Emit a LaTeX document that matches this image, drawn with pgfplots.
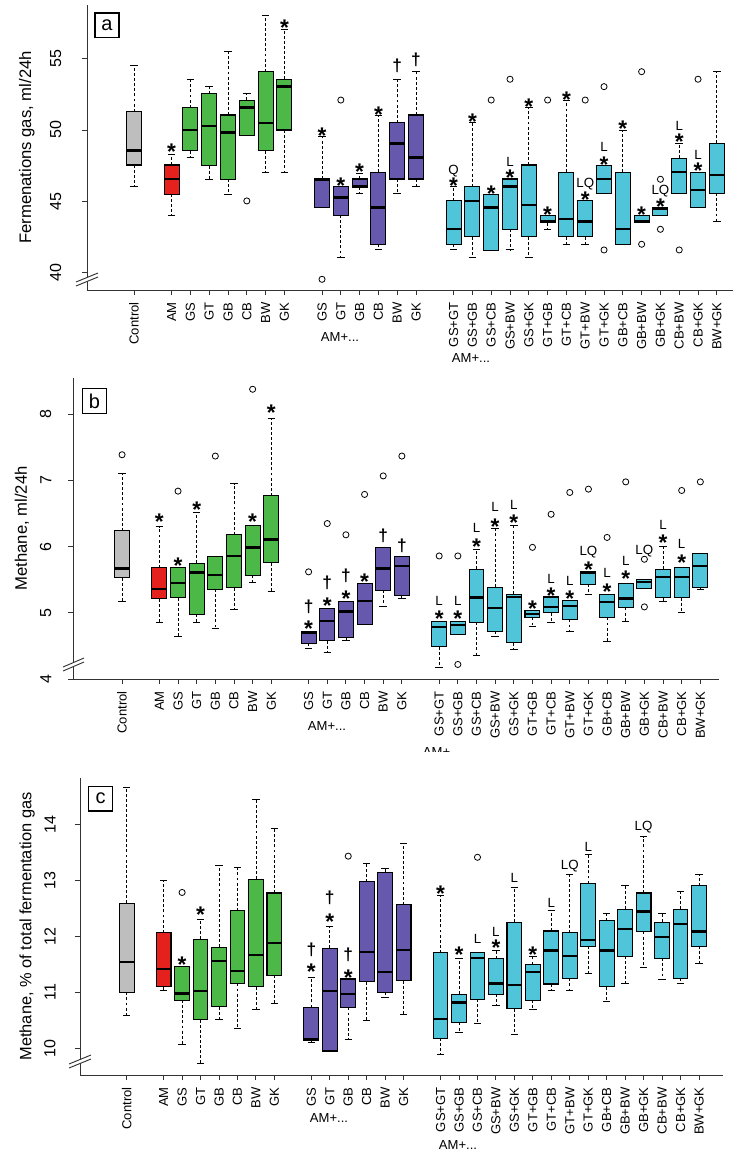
\documentclass[border=0pt]{standalone}
\usepackage{fontspec}
\setmainfont{Liberation Sans}
\usepackage{pgfplots}
\pgfplotsset{compat=1.18}
\usepgfplotslibrary{statistics}

\definecolor{cgray}{HTML}{BEBEBE}
\definecolor{cred}{HTML}{E4211C}
\definecolor{cgreen}{HTML}{4CB848}
\definecolor{cpurple}{HTML}{6659AD}
\definecolor{ccyan}{HTML}{50C4D8}

% R-like boxplot: dashed whisker, solid cap
\pgfplotsset{
  boxplot/draw direction=y,
  boxplot/box extend=0.8,
  boxplot/whisker extend=0.4,
  boxplot/every median/.style={line width=1.8pt},
  boxplot/draw/lower whisker/.code={%
    \draw[black, line width=0.6pt, dash pattern=on 2.2pt off 1.6pt]
      (boxplot box cs:\pgfplotsboxplotvalue{lower quartile},0.5) --
      (boxplot box cs:\pgfplotsboxplotvalue{lower whisker},0.5);
    \draw[black, line width=0.7pt]
      (boxplot whisker cs:\pgfplotsboxplotvalue{lower whisker},0) --
      (boxplot whisker cs:\pgfplotsboxplotvalue{lower whisker},1);
  },
  boxplot/draw/upper whisker/.code={%
    \draw[black, line width=0.6pt, dash pattern=on 2.2pt off 1.6pt]
      (boxplot box cs:\pgfplotsboxplotvalue{upper quartile},0.5) --
      (boxplot box cs:\pgfplotsboxplotvalue{upper whisker},0.5);
    \draw[black, line width=0.7pt]
      (boxplot whisker cs:\pgfplotsboxplotvalue{upper whisker},0) --
      (boxplot whisker cs:\pgfplotsboxplotvalue{upper whisker},1);
  },
  rax/.style={scale only axis, anchor=south west, clip=false,
    axis x line*=bottom, axis y line*=left,
    axis line style={black!80, line width=0.7pt},
    tick style={black!80, line width=0.7pt}, tick align=outside, major tick length=3.75pt,
    xtick={1,3,4,5,6,7,8,9,11,12,13,14,15,16,18,19,20,21,22,23,24,25,26,27,28,29,30,31,32},
    xticklabels={Control,AM,GS,GT,GB,CB,BW,GK,GS,GT,GB,CB,BW,GK,GS+GT,GS+GB,GS+CB,GS+BW,GS+GK,GT+GB,GT+CB,GT+BW,GT+GK,GB+CB,GB+BW,GB+GK,CB+BW,CB+GK,BW+GK},
    xticklabel style={rotate=90, anchor=east, font=\fontsize{9.8}{10}\selectfont},
    xticklabel shift=2pt,
    yticklabel style={rotate=90, anchor=south, font=\fontsize{12}{12}\selectfont},
    /pgf/number format/assume math mode=true}
}

% #1 pos, #2 lw, #3 q1, #4 med, #5 q3, #6 uw, #7 fill, #8 outliers
\newcommand{\bx}[8]{\addplot[black, line width=0.7pt, mark=o, mark size=2.3pt, mark options={solid, line width=0.6pt},
  boxplot prepared={draw position=#1, lower whisker=#2, lower quartile=#3, median=#4, upper quartile=#5, upper whisker=#6},
  boxplot/every box/.style={fill=#7, draw=black, line width=0.8pt}] coordinates {#8};}
\newcommand{\st}[2]{\node[inner sep=0pt, font=\bfseries\fontsize{17}{17}\selectfont] at (axis cs:#1,#2) {\smash{\raisebox{-0.56em}{*}}};}
\newcommand{\dg}[2]{\node[inner sep=0pt, font=\bfseries\fontsize{13}{13}\selectfont] at (axis cs:#1,#2) {\smash{\raisebox{-0.3em}{†}}};}
\newcommand{\tx}[3]{\node[inner sep=0pt, font=\fontsize{10}{10}\selectfont] at (axis cs:#1,#2) {\smash{\raisebox{-0.36em}{#3}}};}

\begin{document}
\begin{tikzpicture}
\useasboundingbox (0,0) rectangle (558pt,-867pt);

% ---------- (a) fermentation gas ----------
\begin{axis}[rax, at={(87*0.75pt,-290*0.75pt)}, width=484.5pt, height=213.75pt,
  xmin=-1.5, xmax=32.86, ymin=38.77, ymax=58.77, ytick={40,45,50,55},
  yticklabel shift=12pt,
  ylabel={Fermenations gas, ml/24h},
  every axis y label/.style={at={(axis description cs:-0.093,0.5)}, rotate=90, anchor=center, font=\fontsize{12.5}{13}\selectfont}]
\bx{1}{46.02}{47.54}{48.55}{51.29}{54.56}{cgray}{}
\bx{3}{44.03}{45.5}{46.56}{47.54}{48.3}{cred}{}
\bx{4}{48.06}{48.53}{50.0}{51.57}{53.56}{cgreen}{}
\bx{5}{46.56}{47.5}{50.28}{52.53}{53.04}{cgreen}{}
\bx{6}{45.5}{46.54}{49.81}{51.05}{55.54}{cgreen}{}
\bx{7}{49.58}{49.58}{51.57}{52.1}{52.53}{cgreen}{(0,45.02)}
\bx{8}{47.03}{48.55}{50.51}{54.09}{58.07}{cgreen}{}
\bx{9}{47.03}{50.0}{53.04}{53.56}{57.06}{cgreen}{}
\bx{11}{44.55}{44.55}{46.5}{46.56}{49.53}{cpurple}{(0,39.52)}
\bx{12}{41.04}{44.03}{45.27}{46.02}{46.02}{cpurple}{(0,52.1)}
\bx{13}{45.56}{45.98}{46.02}{46.56}{46.96}{cpurple}{}
\bx{14}{41.58}{41.98}{44.55}{47.03}{51.05}{cpurple}{}
\bx{15}{45.56}{46.56}{49.06}{50.51}{53.56}{cpurple}{}
\bx{16}{46.07}{46.56}{48.06}{51.05}{54.09}{cpurple}{}
\bx{18}{41.58}{41.98}{43.03}{45.02}{46.02}{ccyan}{}
\bx{19}{41.04}{42.51}{45.02}{46.02}{50.51}{ccyan}{}
\bx{20}{41.53}{41.53}{44.55}{45.5}{45.5}{ccyan}{(0,52.1)}
\bx{21}{41.58}{43.03}{46.02}{46.56}{46.56}{ccyan}{(0,53.56)}
\bx{22}{41.04}{42.51}{44.74}{47.54}{51.57}{ccyan}{}
\bx{23}{43.03}{43.5}{43.57}{44.03}{44.03}{ccyan}{(0,52.1)}
\bx{24}{41.98}{42.51}{43.75}{47.03}{52.1}{ccyan}{}
\bx{25}{41.98}{42.51}{43.57}{45.02}{45.02}{ccyan}{(0,52.1)}
\bx{26}{45.56}{45.56}{46.56}{47.5}{47.5}{ccyan}{(0,53.04) (0,41.58)}
\bx{27}{41.98}{41.98}{43.03}{47.03}{49.95}{ccyan}{}
\bx{28}{43.5}{43.5}{43.57}{44.03}{44.03}{ccyan}{(0,54.09) (0,41.98)}
\bx{29}{44.03}{44.03}{44.5}{44.57}{44.57}{ccyan}{(0,46.54) (0,43.03)}
\bx{30}{45.56}{45.56}{47.03}{48.01}{49.06}{ccyan}{(0,41.58)}
\bx{31}{44.55}{44.55}{45.79}{47.03}{47.03}{ccyan}{(0,53.56)}
\bx{32}{43.57}{45.56}{46.84}{49.06}{54.09}{ccyan}{}
\st{3}{48.83} \st{9}{57.49}
\st{11}{49.93} \st{12}{46.42} \st{13}{47.43} \st{14}{51.4}
\dg{15}{54.44} \dg{16}{54.9}
\st{18}{46.42} \tx{18}{47.24}{Q}
\st{19}{50.94} \st{20}{45.9}
\st{21}{46.96} \tx{21}{47.78}{L}
\st{22}{51.99} \st{23}{44.43} \st{24}{52.46}
\st{25}{45.44} \tx{25}{46.3}{LQ}
\st{26}{47.94} \tx{26}{48.83}{L}
\st{27}{50.42} \st{28}{44.43}
\st{29}{44.97} \tx{29}{45.79}{LQ}
\st{30}{49.49} \tx{30}{50.28}{L}
\st{31}{47.47} \tx{31}{48.25}{L}
\end{axis}

% ---------- (b) methane ml ----------
\begin{axis}[rax, at={(73*0.75pt,-679*0.75pt)}, width=484.5pt, height=225.75pt,
  xmin=-1.63, xmax=33.0, ymin=4, ymax=8.55, ytick={4,5,6,7,8},
  yticklabel shift=9pt,
  ylabel={Methane, ml/24h},
  every axis y label/.style={at={(axis description cs:-0.079,0.5)}, rotate=90, anchor=center, font=\fontsize{12.5}{13}\selectfont}]
\bx{1}{5.17}{5.53}{5.67}{6.24}{7.11}{cgray}{(0,7.39)}
\bx{3}{4.85}{5.21}{5.36}{5.68}{6.30}{cred}{}
\bx{4}{4.64}{5.23}{5.45}{5.68}{5.68}{cgreen}{(0,6.84)}
\bx{5}{4.85}{4.98}{5.61}{5.75}{6.51}{cgreen}{}
\bx{6}{4.76}{5.36}{5.57}{5.85}{5.85}{cgreen}{(0,7.37)}
\bx{7}{5.05}{5.38}{5.86}{6.18}{6.95}{cgreen}{}
\bx{8}{5.46}{5.57}{5.99}{6.32}{6.32}{cgreen}{(0,8.38)}
\bx{9}{5.33}{5.76}{6.11}{6.77}{7.94}{cgreen}{}
\bx{11}{4.46}{4.54}{4.70}{4.72}{4.72}{cpurple}{(0,5.62)}
\bx{12}{4.40}{4.58}{4.88}{5.06}{5.06}{cpurple}{(0,6.35)}
\bx{13}{4.59}{4.63}{5.02}{5.17}{5.17}{cpurple}{(0,6.18)}
\bx{14}{4.83}{4.83}{5.18}{5.44}{5.44}{cpurple}{(0,6.79)}
\bx{15}{5.09}{5.34}{5.67}{5.99}{5.99}{cpurple}{(0,7.07)}
\bx{16}{5.22}{5.26}{5.71}{5.85}{5.85}{cpurple}{(0,7.37)}
\bx{18}{4.18}{4.49}{4.79}{4.87}{4.87}{ccyan}{(0,5.86)}
\bx{19}{4.67}{4.67}{4.82}{4.87}{4.87}{ccyan}{(0,5.86) (0,4.22)}
\bx{20}{4.35}{4.86}{5.23}{5.66}{5.96}{ccyan}{}
\bx{21}{4.64}{4.72}{5.07}{5.39}{6.28}{ccyan}{}
\bx{22}{4.44}{4.55}{5.24}{5.28}{6.32}{ccyan}{}
\bx{23}{4.80}{4.93}{4.98}{5.03}{5.03}{ccyan}{(0,5.99)}
\bx{24}{4.85}{5.00}{5.09}{5.24}{5.24}{ccyan}{(0,6.49)}
\bx{25}{4.72}{4.90}{5.10}{5.18}{5.18}{ccyan}{(0,6.82)}
\bx{26}{5.28}{5.43}{5.60}{5.62}{5.62}{ccyan}{(0,6.87)}
\bx{27}{4.56}{4.93}{5.16}{5.28}{5.28}{ccyan}{(0,6.14)}
\bx{28}{4.87}{5.08}{5.22}{5.45}{5.45}{ccyan}{(0,6.98)}
\bx{29}{5.37}{5.37}{5.47}{5.51}{5.51}{ccyan}{(0,5.81) (0,5.09)}
\bx{30}{5.17}{5.23}{5.54}{5.66}{6.00}{ccyan}{}
\bx{31}{5.01}{5.23}{5.54}{5.69}{5.69}{ccyan}{(0,6.85)}
\bx{32}{5.36}{5.38}{5.71}{5.90}{5.90}{ccyan}{(0,6.98)}
\st{3}{6.45} \st{4}{5.79} \st{5}{6.63} \st{8}{6.45} \st{9}{8.10}
\st{11}{4.84} \dg{11}{5.09}
\st{12}{5.18} \dg{12}{5.45}
\st{13}{5.29} \dg{13}{5.55}
\st{14}{5.55} \dg{15}{6.15} \dg{16}{6.0}
\st{18}{4.99} \tx{18}{5.19}{L}
\st{19}{4.99} \tx{19}{5.19}{L}
\st{20}{6.08} \tx{20}{6.29}{L}
\st{21}{6.38} \tx{21}{6.60}{L}
\st{22}{6.44} \tx{22}{6.63}{L}
\st{23}{5.13}
\st{24}{5.34} \tx{24}{5.52}{L}
\st{25}{5.29} \tx{25}{5.48}{L}
\st{26}{5.73} \tx{26}{5.94}{LQ}
\st{27}{5.39} \tx{27}{5.60}{L}
\st{28}{5.59} \tx{28}{5.79}{L}
\tx{29}{5.95}{LQ}
\st{30}{6.13} \tx{30}{6.34}{L}
\st{31}{5.83} \tx{31}{6.04}{L}
\end{axis}

% ---------- (c) methane % ----------
\begin{axis}[rax, at={(80*0.75pt,-1075*0.75pt)}, width=482.25pt, height=222.75pt,
  xmin=-1.53, xmax=33.3, ymin=9.52, ymax=14.84, ytick={10,11,12,13,14},
  yticklabel shift=11pt,
  ylabel={Methane, \% of total fermentation gas},
  every axis y label/.style={at={(axis description cs:-0.0824,0.5)}, rotate=90, anchor=center, font=\fontsize{12.3}{13}\selectfont}]
\bx{1}{10.59}{11.00}{11.54}{12.60}{14.67}{cgray}{}
\bx{3}{11.03}{11.10}{11.42}{12.07}{13.0}{cred}{}
\bx{4}{10.06}{10.86}{10.98}{11.46}{11.46}{cgreen}{(0,12.79)}
\bx{5}{9.72}{10.51}{11.03}{11.95}{12.31}{cgreen}{}
\bx{6}{10.51}{10.74}{11.56}{11.81}{13.28}{cgreen}{}
\bx{7}{10.35}{11.16}{11.38}{12.46}{13.24}{cgreen}{}
\bx{8}{10.70}{11.10}{11.67}{13.03}{14.45}{cgreen}{}
\bx{9}{10.8}{11.31}{11.88}{12.78}{13.94}{cgreen}{}
\bx{11}{10.10}{10.13}{10.16}{10.73}{11.27}{cpurple}{}
\bx{12}{9.95}{9.95}{11.03}{11.79}{12.18}{cpurple}{}
\bx{13}{10.16}{10.73}{10.97}{11.24}{11.24}{cpurple}{(0,13.44)}
\bx{14}{10.49}{11.19}{11.72}{12.98}{13.31}{cpurple}{}
\bx{15}{10.91}{11.0}{11.36}{13.15}{13.22}{cpurple}{}
\bx{16}{10.61}{11.21}{11.76}{12.57}{13.67}{cpurple}{}
\bx{18}{9.88}{10.18}{10.52}{11.71}{12.73}{ccyan}{}
\bx{19}{10.28}{10.46}{10.82}{10.97}{11.60}{ccyan}{}
\bx{20}{10.45}{10.88}{11.62}{11.72}{11.72}{ccyan}{(0,13.42)}
\bx{21}{10.77}{10.97}{11.16}{11.60}{11.75}{ccyan}{}
\bx{22}{10.25}{10.71}{11.13}{12.26}{12.88}{ccyan}{}
\bx{23}{10.70}{10.86}{11.36}{11.50}{11.64}{ccyan}{}
\bx{24}{11.03}{11.15}{11.75}{12.10}{12.46}{ccyan}{}
\bx{25}{11.04}{11.25}{11.65}{12.07}{13.12}{ccyan}{}
\bx{26}{11.34}{11.83}{11.94}{12.95}{13.47}{ccyan}{}
\bx{27}{10.83}{11.10}{11.75}{12.28}{12.42}{ccyan}{}
\bx{28}{11.16}{11.65}{12.14}{12.49}{12.92}{ccyan}{}
\bx{29}{11.45}{12.09}{12.45}{12.78}{13.79}{ccyan}{}
\bx{30}{11.23}{11.61}{11.99}{12.26}{12.42}{ccyan}{}
\bx{31}{11.16}{11.25}{12.22}{12.49}{12.81}{ccyan}{}
\bx{32}{11.52}{11.83}{12.09}{12.91}{13.12}{ccyan}{}
\st{4}{11.58} \st{5}{12.48}
\st{11}{11.46} \dg{11}{11.76}
\st{12}{12.36} \dg{12}{12.69}
\st{13}{11.35} \dg{13}{11.67}
\st{18}{12.86} \st{19}{11.77}
\tx{20}{11.97}{L}
\st{21}{11.88} \tx{21}{12.09}{L}
\tx{22}{13.06}{L}
\st{23}{11.77}
\tx{24}{12.61}{L}
\tx{25}{13.28}{LQ}
\tx{26}{13.61}{L}
\tx{29}{13.99}{LQ}
\end{axis}

% ---------- decorations in pixel units ----------
\begin{scope}[x=0.75pt, y=-0.75pt]
\tikzset{pl/.style={draw, line width=1pt, inner sep=0pt, minimum width=18pt, minimum height=18.5pt, font=\fontsize{15}{15}\selectfont}}
\node[pl] at (107,25.5) {a};
\node[pl] at (94.5,401) {b};
\node[pl] at (100.5,798.5) {c};
% axis breaks
\fill[white] (76,286) -- (98,277) -- (98,273) -- (76,282) -- cycle;
\draw[black!80, line width=0.7pt] (76,286) -- (98,277) (76,282) -- (98,273);
\fill[white] (63,671) -- (84,662) -- (84,658) -- (63,667) -- cycle;
\draw[black!80, line width=0.7pt] (63,671) -- (84,662) (63,667) -- (84,658);
\fill[white] (69,1068) -- (91,1059) -- (91,1055) -- (69,1064) -- cycle;
\draw[black!80, line width=0.7pt] (69,1068) -- (91,1059) (69,1064) -- (91,1055);
% group labels
\tikzset{gl/.style={inner sep=0pt, font=\fontsize{9.8}{10}\selectfont}}
\node[gl] at (340,337) {AM+...};
\node[gl] at (471,358) {AM+...};
\node[gl] at (327,726) {AM+...};
\begin{scope}
\clip (400,740) rectangle (500,751.5);
\node[gl, anchor=north] at (442,747) {AM+...};
\end{scope}
\node[gl] at (329,1118) {AM+...};
\node[gl] at (458,1145) {AM+...};
\end{scope}
\end{tikzpicture}
\end{document}
